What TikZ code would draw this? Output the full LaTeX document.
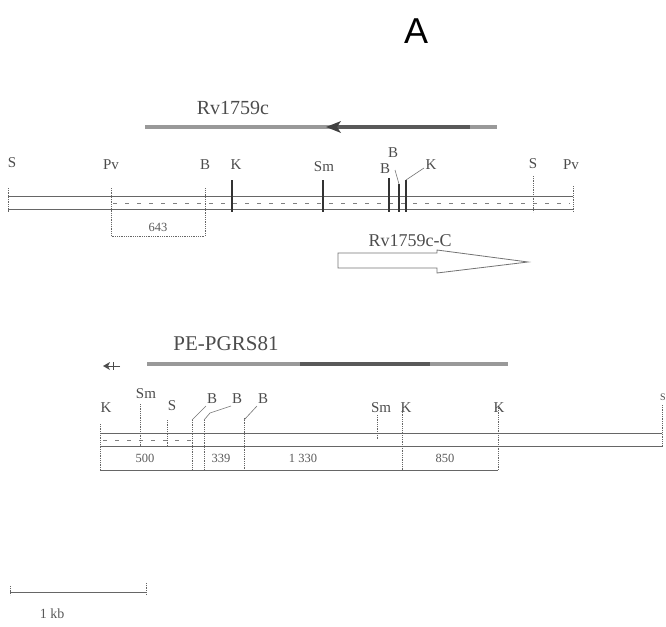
\documentclass[tikz,border=0pt]{standalone}
\usepackage{fontspec}
\setmainfont{Liberation Serif}
\newfontfamily\sansA{Liberation Sans}
\begin{document}
\begin{tikzpicture}[x=1pt,y=-1pt,
  lbl/.style={font=\fontsize{15}{15}\selectfont, text=black!70, inner sep=0pt},
  num/.style={font=\fontsize{12.5}{12.5}\selectfont, text=black!65, inner sep=0pt},
  title/.style={font=\fontsize{20}{20}\selectfont, text=black!70, inner sep=0pt},
  mapline/.style={draw=black!60, line width=0.8pt},
  tickline/.style={draw=black!80, line width=1.1pt},
  dtick/.style={draw=black!60, line width=0.8pt, densely dotted},
  leader/.style={draw=black!55, line width=0.6pt},
  inner/.style={draw=black!50, line width=0.6pt, dash pattern=on 4pt off 8pt},
  genebar/.style={draw=black!40, line width=3.5pt},
  genedark/.style={draw=black!65, line width=4pt}]
\useasboundingbox (0,0) rectangle (666,626);

% panel letter
\node[font=\sansA\fontsize{36}{36}\selectfont, inner sep=0pt] (A) at (416,31) {A};

% ---------------- upper map ----------------
\node[title] (rv) at (233,108) {Rv1759c};
\draw[genebar] (145,127) -- (497,127);
\draw[genedark] (335,127) -- (470,127);
\fill[black!75] (326,127) -- (341,121) -- (337,127) -- (341,133) -- cycle;

\draw[mapline] (8,196) -- (573,196);
\draw[mapline] (8,209) -- (573,209);
\draw[dtick] (8,188) -- (8,212);
\draw[dtick] (573,186) -- (573,212);
\draw[inner] (113,203) -- (570,203);

% ticks
\draw[dtick] (111,188) -- (111,236) -- (205,236) -- (205,188);
\draw[tickline] (232,180) -- (232,212);
\draw[tickline] (323,180) -- (323,212);
\draw[tickline] (389,178) -- (389,212);
\draw[tickline] (399,184) -- (399,212);
\draw[leader] (399,184) -- (395,170);
\draw[tickline] (406,180) -- (406,212);
\draw[leader] (406,180) -- (424,168);
\draw[dtick] (533,176) -- (533,212);

\node[lbl] (uS1) at (12,163) {S};
\node[lbl] (uPv1) at (111,165) {Pv};
\node[lbl] (uB1) at (205,165) {B};
\node[lbl] (uK1) at (236,165) {K};
\node[lbl] (uSm) at (324,167) {Sm};
\node[lbl] (uB2) at (385,169) {B};
\node[lbl] (uB3) at (393,153) {B};
\node[lbl] (uK2) at (431,165) {K};
\node[lbl] (uS2) at (533,164) {S};
\node[lbl] (uPv2) at (571,165) {Pv};
\node[num] (n643) at (158,227) {643};

% Rv1759c-C open arrow
\node[font=\fontsize{18}{18}\selectfont, text=black!70, inner sep=0pt] (rvc) at (410,241) {Rv1759c-C};
\draw[draw=black!55, line width=0.8pt] (338,253) -- (437,253) -- (437,250) -- (528,262)
  -- (437,273) -- (437,268) -- (338,268) -- cycle;

% ---------------- lower map ----------------
\node[font=\fontsize{21}{21}\selectfont, text=black!70, inner sep=0pt] (pe) at (226,344) {PE-PGRS81};
\draw[genebar] (147,364) -- (508,364);
\draw[genedark] (300,364) -- (430,364);
\draw[black!70, line width=1pt] (120,366) -- (105,366);
\fill[black!70] (103,366) -- (110,362) -- (108,366) -- (110,370) -- cycle;
\draw[black!70, line width=0.8pt] (113,362) -- (113,370);

\draw[mapline] (100,433) -- (662,433);
\draw[mapline] (100,446) -- (662,446);
\draw[inner] (103,440) -- (192,440);
\draw[dtick] (100,424) -- (100,470);
\draw[dtick] (662,405) -- (662,448);

% box row
\draw[mapline] (100,470) -- (498,470);
\draw[dtick] (192,420) -- (192,470);
\draw[dtick] (204,420) -- (204,470);
\draw[dtick] (244,418) -- (244,470);
\draw[dtick] (402,410) -- (402,470);
\draw[dtick] (498,408) -- (498,470);
\draw[dtick] (140,404) -- (140,446);
\draw[dtick] (167,420) -- (167,446);
\draw[dtick] (377,415) -- (377,440);
\draw[leader] (192,420) -- (206,406);
\draw[leader] (204,420) -- (210,413) -- (231,406);
\draw[leader] (244,420) -- (257,406);

\node[lbl] (lK1) at (106,408) {K};
\node[lbl] (lSm1) at (146,394) {Sm};
\node[lbl] (lS1) at (172,406) {S};
\node[lbl] (lB1) at (212,399) {B};
\node[lbl] (lB2) at (237,399) {B};
\node[lbl] (lB3) at (263,399) {B};
\node[lbl] (lSm2) at (381,408) {Sm};
\node[lbl] (lK2) at (406,408) {K};
\node[lbl] (lK3) at (499,408) {K};
\node[lbl, font=\fontsize{10}{10}\selectfont, anchor=east] (lS2) at (666,397) {S};

\node[num] (n500) at (145,458) {500};
\node[num] (n339) at (221,458) {339};
\node[num] (n1330) at (303,458) {1 330};
\node[num] (n850) at (445,458) {850};

% scale bar
\draw[mapline] (10,592) -- (146,592);
\draw[dtick] (10,586) -- (10,595);
\draw[dtick] (146,583) -- (146,595);
\node[num, font=\fontsize{14}{14}\selectfont] (kb) at (52,614) {1 kb};
\end{tikzpicture}
\end{document}
